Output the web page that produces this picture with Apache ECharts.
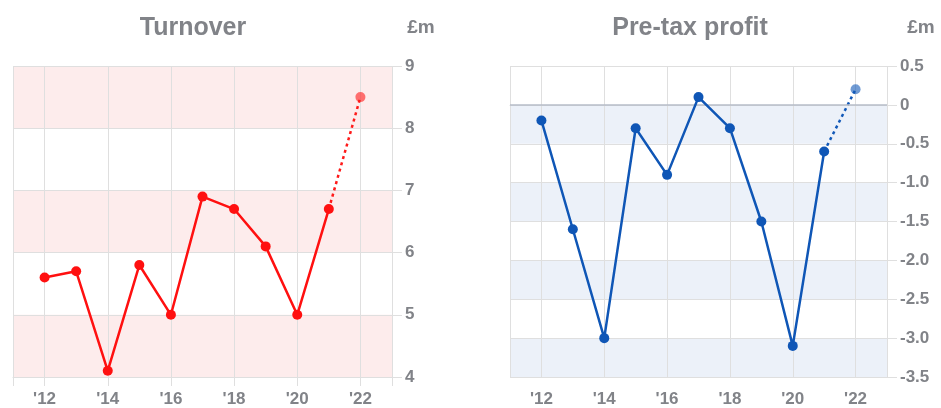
<!DOCTYPE html>
<html>
<head>
<meta charset="utf-8">
<script src="https://cdn.jsdelivr.net/npm/echarts@6/dist/echarts.min.js"></script>
<style>
  html, body { margin: 0; padding: 0; background: #fff; }
  #c { width: 941px; height: 408px; }
</style>
</head>
<body>
<div id="c"></div>
<script>
// Financial years shown on both panels
const years = [2012, 2013, 2014, 2015, 2016, 2017, 2018, 2019, 2020, 2021, 2022];
// Turnover, £m
const turnover = [5.6, 5.7, 4.1, 5.8, 5.0, 6.9, 6.7, 6.1, 5.0, 6.7, 8.5];
// Pre-tax profit, £m
const profit = [-0.2, -1.6, -3.0, -0.3, -0.9, 0.1, -0.3, -1.5, -3.1, -0.6, 0.2];
// Index from which the last segment is a forecast (dotted)
const forecastFrom = 9;

const FONT = '"Liberation Sans", Arial, sans-serif';
const TEXT = '#818388';
const GRID = '#dfdfdf';

// Axis categories padded with one empty year at each end
const cats = [String(years[0] - 1)].concat(years.map(String), [String(years[years.length - 1] + 1)]);
const isEdge = i => i === 0 || i === cats.length - 1;
const isMarked = i => isEdge(i) || Number(cats[i]) % 2 === 0;

function solidData(vals) {
  const d = [null];
  vals.forEach((v, i) => d.push(i <= forecastFrom ? v : null));
  d.push(null);
  return d;
}
function forecastData(vals) {
  const d = [null];
  vals.forEach((v, i) => {
    if (i < forecastFrom) d.push(null);
    else if (i === forecastFrom) d.push({ value: v, symbol: 'none' });
    else d.push({ value: v, itemStyle: { opacity: 0.6 } });
  });
  d.push(null);
  return d;
}

function xAxis(gridIndex) {
  return {
    type: 'category', gridIndex, data: cats, boundaryGap: false,
    axisLine: { show: true, lineStyle: { color: GRID, width: 1 } },
    axisTick: { show: true, interval: i => isMarked(i), length: 9, lineStyle: { color: GRID } },
    splitLine: { show: true, interval: i => isMarked(i), lineStyle: { color: GRID } },
    axisLabel: {
      interval: i => !isEdge(i) && isMarked(i),
      formatter: v => "'" + v.slice(2),
      color: TEXT, fontFamily: FONT, fontWeight: 'bold', fontSize: 17, margin: 14
    }
  };
}

function yAxis(gridIndex, min, max, interval, band, fmt) {
  return {
    type: 'value', gridIndex, position: 'right', min, max, interval,
    axisLine: { show: false },
    axisTick: { show: true, length: 10, lineStyle: { color: GRID } },
    splitLine: { show: true, lineStyle: { color: GRID } },
    splitArea: { show: true, areaStyle: { color: [band, 'rgba(255,255,255,0)'] } },
    axisLabel: {
      formatter: fmt, color: TEXT, fontFamily: FONT, fontWeight: 'bold', fontSize: 17, margin: 13
    }
  };
}

function title(text, x, size) {
  return {
    type: 'text', x, y: 28,
    style: {
      text, fill: TEXT, font: 'bold ' + size + 'px ' + FONT,
      textAlign: 'center', textVerticalAlign: 'middle', align: 'center', verticalAlign: 'middle'
    }
  };
}

const chart = echarts.init(document.getElementById('c'), null, { renderer: 'canvas' });
chart.setOption({
  animation: false,
  backgroundColor: '#fff',
  graphic: [
    title('Turnover', 193, 25),
    title('£m', 421, 19),
    title('Pre-tax profit', 690, 25),
    title('£m', 921, 19)
  ],
  grid: [
    { left: 13, right: 549, top: 66, bottom: 31 },
    { left: 510, right: 54, top: 66, bottom: 31 }
  ],
  xAxis: [xAxis(0), xAxis(1)],
  yAxis: [
    yAxis(0, 4, 9, 1, '#fdecec', v => String(v)),
    yAxis(1, -3.5, 0.5, 0.5, '#ecf1f9', v => (v === 0 ? '0' : v.toFixed(1)))
  ],
  series: [
    {
      type: 'line', xAxisIndex: 0, yAxisIndex: 0, z: 4,
      data: forecastData(turnover), symbol: 'circle', symbolSize: 10,
      itemStyle: { color: '#ff1a1a' },
      lineStyle: { color: '#ff1a1a', width: 2.5, type: [3, 3.5] }
    },
    {
      type: 'line', xAxisIndex: 0, yAxisIndex: 0, z: 5,
      data: solidData(turnover), symbol: 'circle', symbolSize: 10,
      itemStyle: { color: '#ff1010' },
      lineStyle: { color: '#ff1010', width: 2.5 }
    },
    {
      type: 'line', xAxisIndex: 1, yAxisIndex: 1, z: 4,
      data: forecastData(profit), symbol: 'circle', symbolSize: 10,
      itemStyle: { color: '#1158b8' },
      lineStyle: { color: '#1158b8', width: 2.5, type: [3, 3.5] }
    },
    {
      type: 'line', xAxisIndex: 1, yAxisIndex: 1, z: 5,
      data: solidData(profit), symbol: 'circle', symbolSize: 10,
      itemStyle: { color: '#0f56b6' },
      lineStyle: { color: '#0f56b6', width: 2.5 },
      markLine: {
        silent: true, symbol: 'none', label: { show: false },
        lineStyle: { color: '#b6bcc8', width: 1.5, type: 'solid' },
        data: [{ yAxis: 0 }]
      }
    }
  ]
});
</script>
</body>
</html>
